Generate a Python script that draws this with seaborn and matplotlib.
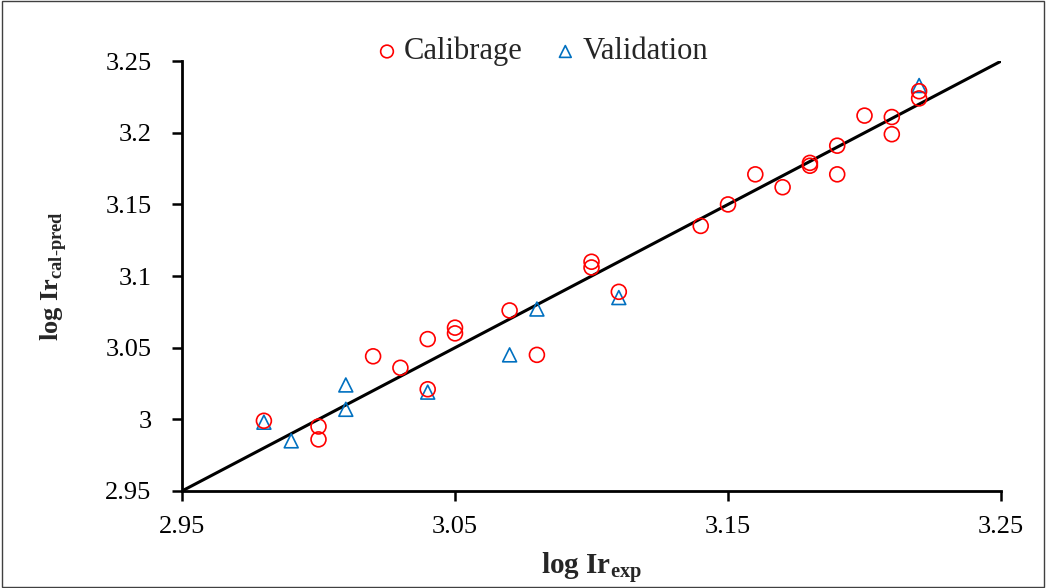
import numpy as np
import pandas as pd
import seaborn as sns
import matplotlib
matplotlib.use("Agg")
import matplotlib.pyplot as plt
from matplotlib.patches import Rectangle

# calibration set (log Ir exp, log Ir cal)
cal_x = [2.98, 3.00, 3.00, 3.02, 3.03, 3.04, 3.04, 3.05, 3.05, 3.07, 3.08,
         3.10, 3.10, 3.11, 3.14, 3.15, 3.16, 3.17, 3.18, 3.18, 3.19, 3.19,
         3.20, 3.21, 3.21, 3.22, 3.22]
cal_y = [2.999, 2.995, 2.986, 3.044, 3.036, 3.056, 3.021, 3.064, 3.060, 3.076, 3.045,
         3.110, 3.106, 3.089, 3.135, 3.150, 3.171, 3.162, 3.179, 3.177, 3.191, 3.171,
         3.212, 3.211, 3.199, 3.229, 3.224]

# validation set (log Ir exp, log Ir pred)
val_x = [2.98, 2.99, 3.01, 3.01, 3.04, 3.07, 3.08, 3.11, 3.22]
val_y = [2.998, 2.985, 3.024, 3.007, 3.019, 3.045, 3.077, 3.085, 3.233]

line_xy = [2.95, 3.25]

df_cal = pd.DataFrame({"exp": cal_x, "pred": cal_y})
df_val = pd.DataFrame({"exp": val_x, "pred": val_y})

sns.set_style("white")
plt.rcParams["font.family"] = ["Liberation Serif", "DejaVu Serif"]
plt.rcParams["mathtext.fontset"] = "custom"
plt.rcParams["mathtext.rm"] = "Liberation Serif"
plt.rcParams["mathtext.bf"] = "Liberation Serif:bold"
plt.rcParams["xtick.bottom"] = True
plt.rcParams["ytick.left"] = True
plt.rcParams["xtick.major.size"] = 7
plt.rcParams["ytick.major.size"] = 7
plt.rcParams["xtick.major.width"] = 1.8
plt.rcParams["ytick.major.width"] = 1.8

fig = plt.figure(figsize=(10.46, 5.88), dpi=100)
ax = fig.add_axes([0.174, 0.165, 0.783, 0.731])

ax.plot(line_xy, line_xy, color="black", lw=2.2, zorder=1)
sns.scatterplot(data=df_cal, x="exp", y="pred", marker="o", s=115,
                facecolors="none", edgecolor="#FF0000", linewidth=1.2,
                label="Calibrage", ax=ax, zorder=3)
sns.scatterplot(data=df_val, x="exp", y="pred", marker="^", s=100,
                facecolors="none", edgecolor="#0070C0", linewidth=1.2,
                label="Validation", ax=ax, zorder=2)

ax.set_xlim(2.95, 3.25)
ax.set_ylim(2.95, 3.25)
ax.set_xticks([2.95, 3.05, 3.15, 3.25])
ax.set_xticklabels(["2.95", "3.05", "3.15", "3.25"])
ax.set_yticks([2.95, 3.0, 3.05, 3.1, 3.15, 3.2, 3.25])
ax.set_yticklabels(["2.95", "3", "3.05", "3.1", "3.15", "3.2", "3.25"])

for s in ["top", "right"]:
    ax.spines[s].set_visible(False)
for s in ["left", "bottom"]:
    ax.spines[s].set_linewidth(2)
    ax.spines[s].set_color("black")
ax.tick_params(bottom=True, left=True, direction="out", length=7, width=1.8,
               labelsize=19, colors="black")
ax.tick_params(axis="x", pad=11)
ax.tick_params(axis="y", pad=15)

ax.set_xlabel(r"log Ir$_{\mathbf{exp}}$", fontsize=21, fontweight="bold", labelpad=9)
ax.set_ylabel(r"log Ir$_{\mathbf{cal\text{-}pred}}$", fontsize=19, fontweight="bold",
              labelpad=26)

leg = ax.legend(loc="center", bbox_to_anchor=(0.516, 0.912),
                bbox_transform=fig.transFigure, ncol=2, frameon=False,
                fontsize=22, markerscale=0.85, handletextpad=0.05,
                handlelength=1.0, columnspacing=0.9)

fig.patches.append(Rectangle((0.002, 0.002), 0.996, 0.996, transform=fig.transFigure,
                             fill=False, edgecolor="#404040", lw=1))

fig.savefig("out.png", dpi=100)
